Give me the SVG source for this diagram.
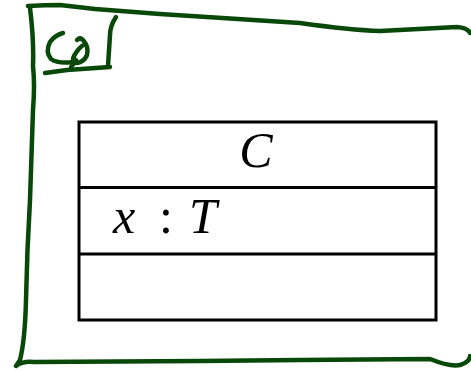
<svg xmlns="http://www.w3.org/2000/svg" width="471" height="371" viewBox="0 0 471 371">
<style>
.g{fill:none;stroke:#084808;stroke-width:4.5;stroke-linecap:round;stroke-linejoin:round}
.b{fill:none;stroke:#000;stroke-width:3}
.m{font-family:"Liberation Serif","DejaVu Serif",serif;font-size:50px;fill:#000}
.i{font-style:italic}
</style>
<rect width="471" height="371" fill="#fff"/>
<g id="frame">
<path class="g" d="M28,6 Q45,5 60,5 L95,9 L160,14 L300,23 Q350,30 380,31 L457,27 Q468,28 470,33"/>
<path class="g" d="M30,8 Q34,40 33,66 Q35,85 33,110 L30,200 Q27,250 26,300 Q25,340 20,360 L16,366 Q22,361 34,362 L200,361 L300,360 L430,359 Q450,367 460,365 Q470,362 470,356"/>
</g>
<g id="icon">
<path class="g" d="M63,33 Q55,35 50,42 Q45,52 51,59 Q58,64 73,62"/>
<path class="g" d="M77,40 Q80,37 83,40 Q89,47 87,55 Q84,62 77,63 Q71,61 74,56 Q78,49 82,46 M76,60 Q74,64 71,67"/>
<path class="g" d="M45,73 L67,70 L110,67"/>
<path class="g" d="M116,17 Q110,26 110,35 L108,66"/>
</g>
<g id="class">
<rect class="b" x="79" y="122" width="357" height="198"/>
<line class="b" x1="79" y1="187.5" x2="436" y2="187.5"/>
<line class="b" x1="79" y1="254" x2="436" y2="254"/>
<text class="m i" x="256" y="167" text-anchor="middle">C</text>
<text class="m i" x="113" y="233">x</text>
<text class="m" x="166" y="233" text-anchor="middle">:</text>
<text class="m i" x="189" y="233">T</text>
</g>
</svg>
